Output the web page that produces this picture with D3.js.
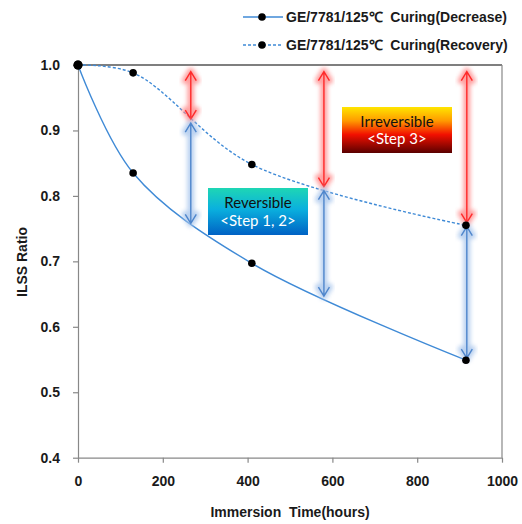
<!DOCTYPE html>
<html><head><meta charset="utf-8">
<script src="https://cdn.jsdelivr.net/npm/d3@7"></script>
<style>body{margin:0;background:#fff}svg{display:block}</style>
</head><body>
<svg id="c" width="522" height="524"></svg>
<script>
// ---- data ----
const hours = [0, 130, 410, 915];
const decrease = [1.0, 0.835, 0.697, 0.549];
const recovery = [1.0, 0.988, 0.848, 0.755];
const seriesNames = ["GE/7781/125\u2103  Curing(Decrease)", "GE/7781/125\u2103  Curing(Recovery)"];
const xTicks = [0, 200, 400, 600, 800, 1000];
const yTicks = [0.4, 0.5, 0.6, 0.7, 0.8, 0.9, 1.0];
const arrowHours = [266, 580, 917];
const arrowTop = [0.99, 0.99, 0.99];
const arrowMid = [0.915, 0.812, 0.757];
const arrowLow = [0.758, 0.647, 0.552];
const xTitle = "Immersion  Time(hours)";
const yTitle = "ILSS Ratio";

const svg = d3.select("#c");
const L = 78, R = 502, T = 65, B = 457.7;
const x = d3.scaleLinear().domain([0, 1000]).range([L, R]);
const y = d3.scaleLinear().domain([0.4, 1.0]).range([B, T]);

const defs = svg.append("defs");
const glow = defs.append("filter").attr("id","glow").attr("x","-50%").attr("y","-20%").attr("width","200%").attr("height","140%");
glow.append("feGaussianBlur").attr("stdDeviation", 2);

const g1 = defs.append("linearGradient").attr("id","gRev").attr("x1",0).attr("y1",0).attr("x2",0).attr("y2",1);
[[0,"#1ed6b4"],[0.45,"#0ab0de"],[1,"#0062c4"]].forEach(s=>g1.append("stop").attr("offset",s[0]).attr("stop-color",s[1]));
const g2 = defs.append("linearGradient").attr("id","gIrr").attr("x1",0).attr("y1",0).attr("x2",0).attr("y2",1);
[[0,"#ffe600"],[0.3,"#ff9a00"],[0.6,"#f21000"],[1,"#5a0000"]].forEach(s=>g2.append("stop").attr("offset",s[0]).attr("stop-color",s[1]));

// frame
svg.append("line").attr("x1",L).attr("x2",R).attr("y1",T).attr("y2",T).attr("stroke","#000").attr("stroke-width",1.2);
svg.append("line").attr("x1",R).attr("x2",R).attr("y1",T).attr("y2",B).attr("stroke","#888").attr("stroke-width",1.2);

// axes
const ax = svg.append("g").attr("transform",`translate(0,${B})`)
  .call(d3.axisBottom(x).tickValues(xTicks).tickFormat(d3.format("d")).tickSize(5).tickPadding(13).tickSizeOuter(0));
const ay = svg.append("g").attr("transform",`translate(${L},0)`)
  .call(d3.axisLeft(y).tickValues(yTicks).tickFormat(d3.format(".1f")).tickSize(5).tickPadding(13).tickSizeOuter(0));
[ax, ay].forEach(a=>{
  a.select(".domain").attr("stroke","#888").attr("stroke-width",1.2);
  a.selectAll(".tick line").attr("stroke","#888").attr("stroke-width",1.2);
  a.selectAll("text").attr("font-family","Liberation Sans, Arial, sans-serif").attr("font-weight","bold").attr("font-size",14).attr("fill","#1a1a1a");
});

svg.append("text").attr("x",290).attr("y",517).attr("text-anchor","middle")
  .attr("font-family","Liberation Sans, Arial, sans-serif").attr("font-weight","bold").attr("font-size",14).attr("fill","#1a1a1a")
  .style("white-space","pre").text(xTitle);
svg.append("text").attr("transform","translate(27,262) rotate(-90)").attr("text-anchor","middle")
  .attr("font-family","Liberation Sans, Arial, sans-serif").attr("font-weight","bold").attr("font-size",14).attr("fill","#1a1a1a").text(yTitle);

// curves
const line = d3.line().x(d=>x(d[0])).y(d=>y(d[1])).curve(d3.curveCatmullRom.alpha(0.5));
const decPts = hours.map((h,i)=>[h, decrease[i]]);
const recPts = hours.map((h,i)=>[h, recovery[i]]);
svg.append("path").attr("d", line(decPts)).attr("fill","none").attr("stroke","#3f8ad6").attr("stroke-width",1.4);
svg.append("path").attr("d", line(recPts)).attr("fill","none").attr("stroke","#3f8ad6").attr("stroke-width",1.4).attr("stroke-dasharray","3,2");

// boxes
function box(x0,y0,w,h,fill,t1,t2){
  svg.append("rect").attr("x",x0).attr("y",y0).attr("width",w).attr("height",h).attr("fill",`url(#${fill})`);
  svg.append("text").attr("x",x0+w/2).attr("y",y0+h*0.43).attr("text-anchor","middle")
    .attr("font-family","Lato, 'Noto Sans', sans-serif").attr("font-size",15).attr("fill","#111").text(t1);
  svg.append("text").attr("x",x0+w/2).attr("y",y0+h*0.81).attr("text-anchor","middle")
    .attr("font-family","Lato, 'Noto Sans', sans-serif").attr("font-size",15).attr("fill","#fff").style("white-space","pre").text(t2);
}
box(208,188,100,47,"gRev","Reversible","<Step 1, 2>");
box(342,107,110,46,"gIrr","Irreversible","<Step 3>");

// arrows
function arrow(xp, ya, yb, core, halo){
  const hw = 5.5, hl = 9;
  const p = `M${xp},${ya}L${xp},${yb}M${xp-hw},${ya+hl}L${xp},${ya}L${xp+hw},${ya+hl}M${xp-hw},${yb-hl}L${xp},${yb}L${xp+hw},${yb-hl}`;
  svg.append("path").attr("d",p).attr("fill","none").attr("stroke",halo).attr("stroke-width",7).attr("stroke-linecap","round").attr("stroke-linejoin","round").attr("filter","url(#glow)").attr("opacity",0.8);
  svg.append("path").attr("d",p).attr("fill","none").attr("stroke",core).attr("stroke-width",1.4);
}
arrowHours.forEach((h,i)=>{
  arrow(x(h), y(arrowTop[i]), y(arrowMid[i])-1.5, "#ff2a2a", "#ff8a8a");
  arrow(x(h), y(arrowMid[i])+2.5, y(arrowLow[i]), "#4f86cc", "#a9c6ec");
});

// markers
svg.append("g").selectAll("circle").data(decPts.concat(recPts)).join("circle")
  .attr("cx",d=>x(d[0])).attr("cy",d=>y(d[1])).attr("r",d=>d[0]===0?4.5:3.8).attr("fill","#000");

// legend
const lg = svg.append("g");
seriesNames.forEach((n,i)=>{
  const yy = 17 + i*28;
  lg.append("line").attr("x1",243).attr("x2",283).attr("y1",yy).attr("y2",yy).attr("stroke","#3f8ad6").attr("stroke-width",1.4)
    .attr("stroke-dasharray", i===1 ? "3,2" : null);
  lg.append("circle").attr("cx",262).attr("cy",yy).attr("r",3.8).attr("fill","#000");
  lg.append("text").attr("x",286).attr("y",yy+5).attr("font-family","Liberation Sans, Arial, sans-serif").attr("font-weight","bold")
    .attr("font-size",14).attr("fill","#1a1a1a").style("white-space","pre").text(n);
});
</script>
</body></html>
